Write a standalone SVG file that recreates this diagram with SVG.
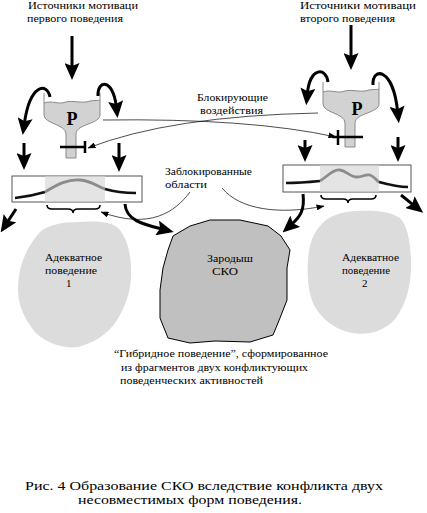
<svg xmlns="http://www.w3.org/2000/svg" width="427" height="513" viewBox="0 0 427 513">
<style>
.t{font-family:"Liberation Serif","DejaVu Serif",serif;font-size:11px;fill:#000}
.c{font-family:"Liberation Serif","DejaVu Serif",serif;font-size:12.5px;fill:#000}
.p{font-family:"Liberation Serif","DejaVu Serif",serif;font-size:18px;font-weight:bold;fill:#000}
.thick{fill:none;stroke:#000;stroke-width:3;marker-end:url(#ah)}
.thin{fill:none;stroke:#000;stroke-width:0.7;marker-end:url(#th)}
.bar{fill:none;stroke:#000;stroke-width:2.5}
.brace{fill:none;stroke:#000;stroke-width:1.6}
.box{fill:#fff;stroke:#555;stroke-width:1}
.shade{fill:#e4e4e4}
.wb{fill:none;stroke:#111;stroke-width:2.6}
.wg{fill:none;stroke:#8c8c8c;stroke-width:2.8}
.liq{fill:#d2d2d2}
.fo{fill:none;stroke:#8a8a8a;stroke-width:1}
</style>
<defs>
<marker id="ah" viewBox="0 0 17 15" refX="5" refY="7.5" markerWidth="17" markerHeight="15" markerUnits="userSpaceOnUse" orient="auto"><path d="M0,0 L17,7.5 L0,15 L3,7.5 Z" fill="#000"/></marker>
<marker id="th" viewBox="0 0 8 6" refX="7.5" refY="3" markerWidth="8" markerHeight="6" markerUnits="userSpaceOnUse" orient="auto"><path d="M0,0 L8,3 L0,6 Z" fill="#000"/></marker>
<g id="funnel">
<path class="liq" d="M44,103 C52,100 58,105 66,102 C74,100 82,104 90,101 C95,100 98,101 100,100 L100,115 C100,124 76,124 76,134 L76,158 L66,158 L66,134 C66,124 44,124 44,115 Z"/>
<path class="fo" d="M44,103 C52,100 58,105 66,102 C74,100 82,104 90,101 C95,100 98,101 100,100"/>
<path class="fo" d="M44,93 L44,115 C44,124 66,124 66,134 L66,158 L76,158 L76,134 C76,124 100,124 100,115 L100,93"/>
</g>
</defs>

<g id="blob-adequate-1">
<path d="M40,232 C48,225 62,222 78,222 C95,221 110,221 118,228 C126,236 130,250 131,265 C132,285 128,300 120,315 C112,330 98,342 78,347 C62,349 46,343 35,332 C25,320 18,305 18,290 C18,270 24,250 40,232 Z" fill="#dcdcdc"/>
<text class="t" x="45" y="261" textLength="57" lengthAdjust="spacingAndGlyphs">Адекватное</text>
<text class="t" x="45" y="274" textLength="52" lengthAdjust="spacingAndGlyphs">поведение</text>
<text class="t" x="66" y="287">1</text>
</g>

<g id="blob-sko">
<path d="M173,236 L190,226 L210,220 L240,220 L268,226 L281,236 L290,250 L287,268 L287,300 L280,318 L273,335 L250,342 L215,341 L190,343 L168,338 L160,318 L160,290 L163,268 L168,250 Z" fill="#c0c0c0" stroke="#000" stroke-width="1" stroke-linejoin="round"/>
<text class="t" x="207" y="262" textLength="46" lengthAdjust="spacingAndGlyphs">Зародыш</text>
<text class="t" x="212" y="275" textLength="26" lengthAdjust="spacingAndGlyphs">СКО</text>
</g>

<g id="blob-adequate-2">
<path d="M320,226 C328,216 340,212 356,211 C372,210 390,211 400,218 C408,226 411,245 411,265 C411,285 407,302 396,318 C386,330 370,336 352,333 C336,330 322,320 314,305 C308,292 307,275 308,260 C309,245 313,234 320,226 Z" fill="#dcdcdc"/>
<text class="t" x="342" y="261" textLength="57" lengthAdjust="spacingAndGlyphs">Адекватное</text>
<text class="t" x="342" y="274" textLength="48" lengthAdjust="spacingAndGlyphs">поведение</text>
<text class="t" x="362" y="287">2</text>
</g>

<g id="source-1">
<text class="t" x="28" y="9" textLength="110" lengthAdjust="spacingAndGlyphs">Источники мотиваци</text>
<text class="t" x="27" y="21.5" textLength="96" lengthAdjust="spacingAndGlyphs">первого поведения</text>
</g>
<g id="source-2">
<text class="t" x="300" y="9" textLength="116" lengthAdjust="spacingAndGlyphs">Источники мотиваци</text>
<text class="t" x="300" y="21.5" textLength="95" lengthAdjust="spacingAndGlyphs">второго поведения</text>
</g>

<g id="funnel-1">
<use href="#funnel"/>
<text class="p" x="72" y="125" text-anchor="middle">P</text>
<path class="bar" d="M60,147 L85,147 M85,141 L85,153"/>
</g>
<g id="funnel-2">
<use href="#funnel" transform="translate(279,-11)"/>
<text class="p" x="357" y="115" text-anchor="middle">P</text>
<path class="bar" d="M332,137 L363,137 M338,130 L338,145"/>
</g>

<g id="label-blocking">
<text class="t" x="197" y="101" textLength="71" lengthAdjust="spacingAndGlyphs">Блокирующие</text>
<text class="t" x="200" y="114" textLength="63" lengthAdjust="spacingAndGlyphs">воздействия</text>
</g>
<g id="label-blocked">
<text class="t" x="165" y="175" textLength="87" lengthAdjust="spacingAndGlyphs">Заблокированные</text>
<text class="t" x="165" y="187.5" textLength="42" lengthAdjust="spacingAndGlyphs">области</text>
</g>

<g id="program-1">
<rect class="box" x="12" y="176" width="130" height="26"/>
<rect class="shade" x="45" y="176.5" width="60" height="25"/>
<path class="wb" d="M15,198 C25,197 35,195 45,192"/>
<path class="wg" d="M45,192 C58,184 68,179 80,180 C92,181 98,187 105,189"/>
<path class="wb" d="M105,189 C115,192 125,193 136,193"/>
<path class="brace" d="M47,205 Q47,209 52,209 L68,209 Q73,209 73,213 Q73,209 78,209 L95,209 Q100,209 100,205"/>
</g>
<g id="program-2">
<rect class="box" x="283" y="165" width="128" height="27"/>
<rect class="shade" x="320" y="165.5" width="59" height="26"/>
<path class="wb" d="M286,183 C300,183 310,182 320,181"/>
<path class="wg" d="M320,181 C328,176 333,169 340,170 C347,171 350,177 357,177 C363,177 365,174 370,175 C375,177 376,180 379,182"/>
<path class="wb" d="M379,182 C390,185 400,187 408,187"/>
<path class="brace" d="M321,195 Q321,199 326,199 L343,199 Q348,199 348,203 Q348,199 353,199 L371,199 Q376,199 376,195"/>
</g>

<g id="label-hybrid">
<text class="t" x="114" y="357" textLength="214" lengthAdjust="spacingAndGlyphs">“Гибридное поведение”, сформированное</text>
<text class="t" x="121" y="370.5" textLength="187" lengthAdjust="spacingAndGlyphs">из фрагментов двух конфликтующих</text>
<text class="t" x="120" y="383.5" textLength="143" lengthAdjust="spacingAndGlyphs">поведенческих активностей</text>
</g>

<g id="caption">
<text class="c" x="25" y="490" textLength="358" lengthAdjust="spacingAndGlyphs">Рис. 4 Образование СКО вследствие конфликта двух</text>
<text class="c" x="78" y="503.5" textLength="224" lengthAdjust="spacingAndGlyphs">несовместимых форм поведения.</text>
</g>

<g id="connectors">
<path class="thick" d="M72,36 L72,68"/>
<path class="thick" d="M351,25 L351,58"/>
<path class="thick" d="M50,97 C47,82 30,84 24.4,123.2"/>
<path class="thick" d="M98,96 C97,80 113,78 116.2,106.1"/>
<path class="thick" d="M24,143 L24,158"/>
<path class="thick" d="M119,143 L119,160"/>
<path class="thick" d="M328,82 C326,67 310,67 307.4,93.2"/>
<path class="thick" d="M373,85 C372,67 393,67 397.6,111.2"/>
<path class="thick" d="M305,140 L305,150"/>
<path class="thick" d="M398,137 L398,150"/>
<path class="thick" d="M16,209 L7.2,222.4"/>
<path class="thick" d="M125,204 C126,220 142,224 162,229.1"/>
<path class="thick" d="M303,194 C305,210 300,217 291.5,224.5"/>
<path class="thick" d="M401,195 L413.8,205.3"/>
<path class="thin" d="M103,120 Q250,118 336,137"/>
<path class="thin" d="M318,113 Q170,116 88,148"/>
<path class="thin" d="M190,192 C175,212 150,230 101,212"/>
<path class="thin" d="M222,188 C240,210 280,215 324,206"/>
</g>
</svg>
